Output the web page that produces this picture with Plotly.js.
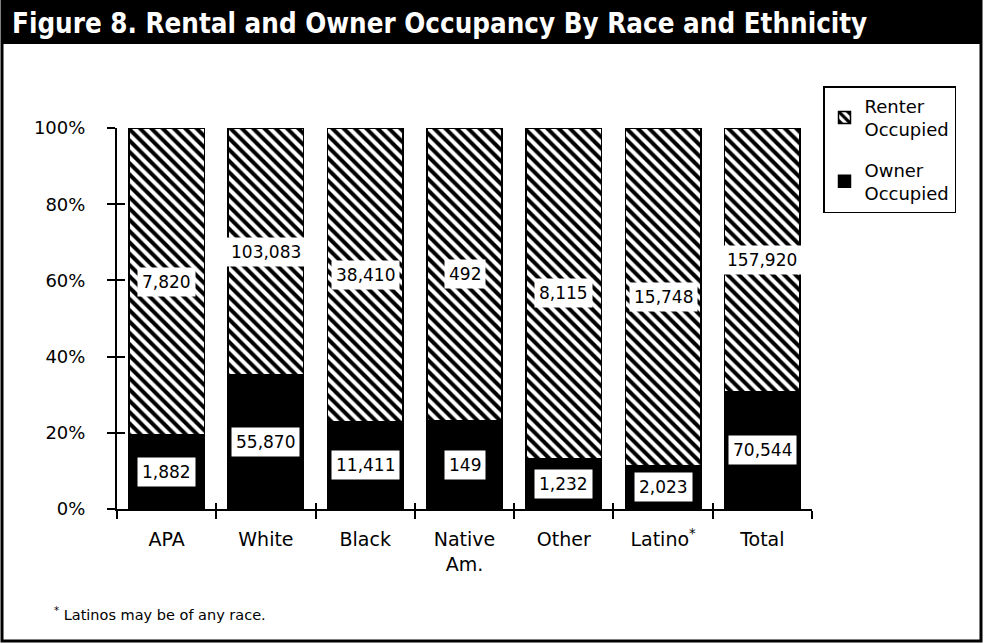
<!DOCTYPE html>
<html>
<head>
<meta charset="utf-8">
<script src="https://cdn.plot.ly/plotly-3.0.1.min.js"></script>
<style>
  html, body { margin: 0; padding: 0; background: #fff; }
  #chart { width: 983px; height: 643px; }
</style>
</head>
<body>
<div id="chart"></div>
<script>
// ---- data ----
const categories = ["APA", "White", "Black", "Native<br>Am.", "Other", "Latino<sup>*</sup>", "Total"];
const ownerOccupied = [1882, 55870, 11411, 149, 1232, 2023, 70544];
const renterOccupied = [7820, 103083, 38410, 492, 8115, 15748, 157920];
const yTickVals = [0, 20, 40, 60, 80, 100];
const yTickText = ["0%", "20%", "40%", "60%", "80%", "100%"];
const titleText = "Figure 8. Rental and Owner Occupancy By Race and Ethnicity";
const footnote = "<sup>*</sup> Latinos may be of any race.";

// ---- geometry helpers (plot area in pixels) ----
const W = 983, H = 643;
const mL = 117, mR = 171, mT = 128, mB = 134;
const pw = W - mL - mR, ph = H - mT - mB;
const px = x => (x - mL) / pw;
const py = y => (H - mB - y) / ph;

const FONT = "'DejaVu Sans', sans-serif";
const TFONT = "'DejaVu Sans Condensed', 'DejaVu Sans', sans-serif";
const fmt = v => v.toLocaleString("en-US");

const traces = [
  {
    type: "bar", name: "Owner<br>Occupied", legendgroup: "owner", legendrank: 2,
    x: categories, y: ownerOccupied,
    marker: { color: "#000", line: { color: "#000", width: 1.5 } },
    hoverinfo: "skip"
  },
  {
    type: "bar", name: "Renter<br>Occupied", legendgroup: "renter", legendrank: 1,
    x: categories, y: renterOccupied,
    marker: {
      color: "#fff",
      line: { color: "#000", width: 1.5 },
      pattern: { shape: "\\", fgcolor: "#000", bgcolor: "#fff", size: 8, solidity: 0.5 }
    },
    hoverinfo: "skip"
  },
  {
    // invisible carrier so the overlay axes (inner half of the crossing ticks) are drawn
    type: "scatter", mode: "markers", x: categories, y: categories.map(() => 0),
    marker: { opacity: 0, size: 1 },
    xaxis: "x2", yaxis: "y2", showlegend: false, hoverinfo: "skip"
  }
];

const annotations = [];
categories.forEach((c, i) => {
  const tot = ownerOccupied[i] + renterOccupied[i];
  const op = ownerOccupied[i] / tot * 100;
  annotations.push({
    x: c, y: op / 2, xref: "x", yref: "y", text: fmt(ownerOccupied[i]),
    showarrow: false, bgcolor: "#fff", borderpad: 4,
    font: { family: FONT, size: 17, color: "#000" }
  });
  annotations.push({
    x: c, y: (op + 100) / 2, xref: "x", yref: "y", text: fmt(renterOccupied[i]),
    showarrow: false, bgcolor: "#fff", borderpad: 4,
    font: { family: FONT, size: 17, color: "#000" }
  });
});
annotations.push({
  xref: "paper", yref: "paper", x: px(52), y: py(614), xanchor: "left", yanchor: "middle",
  text: footnote, showarrow: false, font: { family: FONT, size: 14.5, color: "#000" }
});
annotations.push({
  xref: "paper", yref: "paper", x: px(10), y: py(23), xanchor: "left", yanchor: "middle",
  text: "<b>" + titleText + "</b>", showarrow: false,
  font: { family: TFONT, size: 27.5, color: "#fff" }
});

const layout = {
  width: W, height: H,
  margin: { l: mL, r: mR, t: mT, b: mB },
  paper_bgcolor: "#fff", plot_bgcolor: "rgba(0,0,0,0)",
  barmode: "stack", barnorm: "percent", bargap: 0.24,
  font: { family: FONT, color: "#000" },
  xaxis: {
    type: "category", showgrid: false, zeroline: false,
    showline: true, linecolor: "#000", linewidth: 2,
    ticks: "outside", tickson: "boundaries", ticklen: 8, tickwidth: 2, tickcolor: "#000",
    tickfont: { family: FONT, size: 19, color: "#000" }, ticklabelstandoff: 12,
    fixedrange: true
  },
  xaxis2: {
    type: "category", overlaying: "x", anchor: "y", side: "bottom",
    categoryarray: categories, categoryorder: "array", range: [-0.5, categories.length - 0.5],
    showgrid: false, zeroline: false, showline: false, showticklabels: false,
    ticks: "inside", tickson: "boundaries", ticklen: 6, tickwidth: 2, tickcolor: "#000",
    fixedrange: true
  },
  yaxis: {
    range: [0, 100], showgrid: false, zeroline: false,
    showline: true, linecolor: "#000", linewidth: 2,
    tickvals: yTickVals, ticktext: yTickText,
    ticks: "outside", ticklen: 8, tickwidth: 2, tickcolor: "#000",
    tickfont: { family: FONT, size: 18, color: "#000" }, ticklabelstandoff: 18,
    fixedrange: true
  },
  yaxis2: {
    overlaying: "y", anchor: "x", side: "left", range: [0, 100],
    showgrid: false, zeroline: false, showline: false, showticklabels: false,
    tickvals: yTickVals, ticks: "inside", ticklen: 8, tickwidth: 2, tickcolor: "#000",
    fixedrange: true
  },
  legend: {
    x: px(823), y: py(86), xanchor: "left", yanchor: "top",
    traceorder: "grouped",
    bordercolor: "#000", borderwidth: 1.5, bgcolor: "#fff",
    font: { family: FONT, size: 18, color: "#000" },
    itemwidth: 30, tracegroupgap: 14
  },
  shapes: [
    { type: "rect", xref: "paper", yref: "paper", layer: "below",
      x0: px(1), x1: px(982), y0: py(44), y1: py(0),
      fillcolor: "#000", line: { width: 0 } },
    { type: "rect", xref: "paper", yref: "paper", layer: "above",
      x0: px(2), x1: px(981), y0: py(641), y1: py(1),
      fillcolor: "rgba(0,0,0,0)", line: { color: "#000", width: 3 } }
  ],
  annotations: annotations
};

Plotly.newPlot("chart", traces, layout, { staticPlot: true, displayModeBar: false });
</script>
</body>
</html>
